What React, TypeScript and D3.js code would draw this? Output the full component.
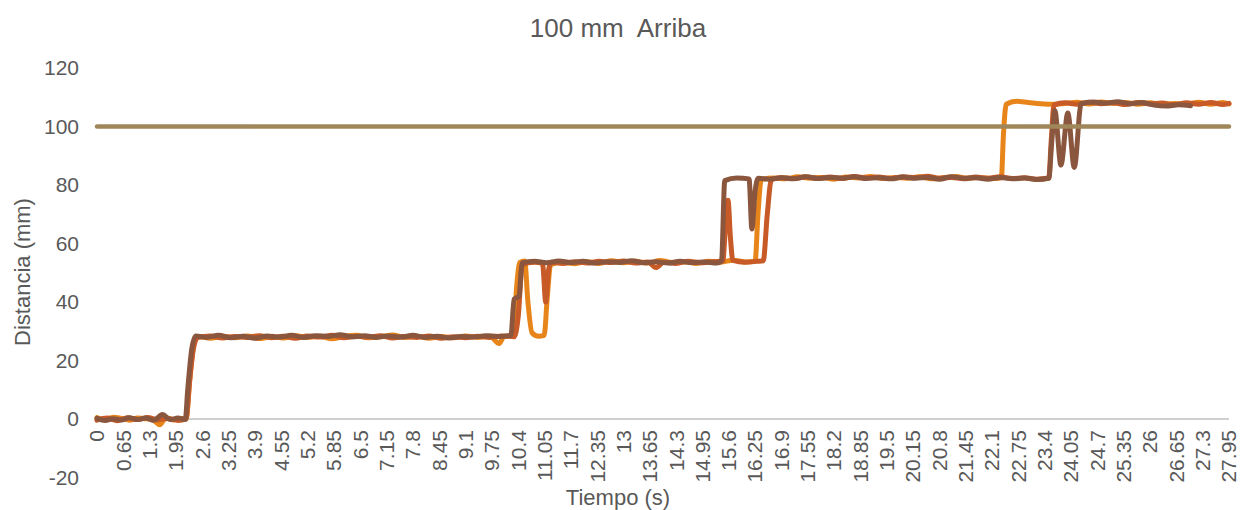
import * as d3 from "d3";
import React from "react";

// time labels on the category axis (s)
const xLabels = [
  "0", "0.65", "1.3", "1.95", "2.6", "3.25", "3.9", "4.55", "5.2", "5.85", "6.5",
  "7.15", "7.8", "8.45", "9.1", "9.75", "10.4", "11.05", "11.7", "12.35", "13",
  "13.65", "14.3", "14.95", "15.6", "16.25", "16.9", "17.55", "18.2", "18.85",
  "19.5", "20.15", "20.8", "21.45", "22.1", "22.75", "23.4", "24.05", "24.7",
  "25.35", "26", "26.65", "27.3", "27.95",
];
const yTicks = [-20, 0, 20, 40, 60, 80, 100, 120];
const target = 100;

// [time s, distance mm]
const serieA: [number, number][] = [
  [0, 0.5], [0.2, -0.3], [0.4, 0.6], [0.6, 0.2], [0.8, -0.4], [1.0, 0.3], [1.2, 0.1],
  [1.4, -0.5], [1.55, -2], [1.7, 0.4], [1.9, -0.3], [2.1, 0.2], [2.2, 0], [2.3, 15],
  [2.4, 26], [2.5, 28.2], [2.8, 27.6], [3.1, 28.3], [3.4, 27.8], [3.7, 28.4], [4.0, 27.5],
  [4.3, 28.1], [4.6, 27.7], [4.9, 28.5], [5.2, 27.9], [5.5, 28.3], [5.8, 27.4], [6.1, 28.2],
  [6.4, 28.6], [6.7, 27.8], [7.0, 28.1], [7.3, 28.7], [7.6, 27.9], [7.9, 28.3], [8.2, 27.6],
  [8.5, 28.2], [8.8, 27.8], [9.1, 28.4], [9.4, 27.9], [9.7, 28.3], [9.93, 25.8], [10.05, 28.2],
  [10.28, 28.5], [10.36, 45], [10.44, 53.5], [10.56, 54], [10.64, 40], [10.74, 29.5], [10.9, 28.3],
  [11.04, 28.6], [11.12, 42], [11.2, 52.8], [11.5, 53.6], [11.8, 53.1], [12.1, 53.8],
  [12.4, 53.2], [12.7, 54.1], [13.0, 53.4], [13.3, 53.9], [13.6, 53.3], [13.9, 54.2],
  [14.2, 53.5], [14.5, 53.8], [14.8, 53.2], [15.1, 53.9], [15.4, 53.6], [15.7, 54.3],
  [16.0, 53.7], [16.25, 54], [16.32, 70], [16.4, 81.8], [16.7, 82.4], [17.0, 82.1],
  [17.3, 82.8], [17.6, 82.3], [17.9, 82.6], [18.2, 82.0], [18.5, 82.7], [18.8, 82.4],
  [19.1, 82.9], [19.4, 82.2], [19.7, 82.6], [20.0, 82.3], [20.3, 82.8], [20.6, 82.1],
  [20.9, 82.5], [21.2, 82.9], [21.5, 82.3], [21.8, 82.6], [22.1, 82.2], [22.33, 82.5],
  [22.38, 97], [22.45, 107.6], [22.7, 108.6], [23.0, 108.2], [23.3, 107.8], [23.6, 107.6],
  [23.9, 107.9], [24.2, 108.3], [24.5, 107.7], [24.8, 108.4], [25.1, 107.9], [25.4, 108.2],
  [25.7, 107.6], [26.0, 108.1], [26.3, 107.4], [26.6, 107.9], [26.9, 107.6], [27.2, 108.3],
  [27.5, 107.6], [27.8, 108.2], [27.95, 107.7],
];

const serieB: [number, number][] = [
  [0, -0.4], [0.25, 0.3], [0.5, -0.6], [0.75, 0.4], [1.0, -0.2], [1.25, 0.5], [1.5, -0.3],
  [1.75, 0.2], [2.0, -0.5], [2.2, 0.1], [2.28, 12], [2.38, 24], [2.48, 27.8], [2.8, 28.4],
  [3.1, 27.7], [3.4, 28.2], [3.7, 27.9], [4.0, 28.5], [4.3, 27.8], [4.6, 28.3], [4.9, 27.6],
  [5.2, 28.4], [5.5, 28.0], [5.8, 28.6], [6.1, 27.8], [6.4, 28.3], [6.7, 28.0], [7.0, 28.5],
  [7.3, 27.7], [7.6, 28.2], [7.9, 27.9], [8.2, 28.4], [8.5, 27.6], [8.8, 28.1], [9.1, 27.8],
  [9.4, 28.3], [9.7, 27.9], [10.0, 28.4], [10.3, 28.1], [10.4, 35], [10.5, 52.8], [10.8, 53.6],
  [11.0, 53.2], [11.08, 40], [11.15, 51], [11.22, 53.6], [11.5, 53.2], [11.8, 53.8],
  [12.1, 53.3], [12.4, 53.9], [12.7, 53.5], [13.0, 54.0], [13.3, 53.3], [13.6, 53.7],
  [13.8, 51.8], [14.0, 53.6], [14.3, 53.2], [14.6, 53.9], [14.9, 53.4], [15.2, 53.8],
  [15.45, 54.0], [15.52, 66], [15.58, 74.8], [15.64, 62], [15.7, 54.2], [16.0, 53.6],
  [16.3, 53.9], [16.45, 54.1], [16.55, 70], [16.65, 81.8], [16.9, 82.6], [17.2, 82.2],
  [17.5, 82.8], [17.8, 82.3], [18.1, 82.7], [18.4, 82.2], [18.7, 82.9], [19.0, 82.4],
  [19.3, 82.7], [19.6, 82.2], [19.9, 82.8], [20.2, 82.5], [20.5, 83.0], [20.8, 82.3],
  [21.1, 82.6], [21.4, 82.1], [21.7, 82.7], [22.0, 82.3], [22.3, 82.8], [22.6, 82.2],
  [22.9, 82.5], [23.2, 82.0], [23.5, 82.4], [23.56, 95], [23.63, 107.4], [23.9, 108.1],
  [24.2, 107.6], [24.5, 108.3], [24.8, 107.8], [25.1, 108.1], [25.4, 107.5], [25.7, 108.2],
  [26.0, 107.7], [26.3, 108.0], [26.6, 107.4], [26.9, 108.1], [27.2, 107.6], [27.5, 108.2],
  [27.8, 107.5], [27.95, 107.9],
];

const serieC: [number, number][] = [
  [0, 0.2], [0.2, -0.5], [0.4, 0.1], [0.6, -0.3], [0.8, 0.4], [1.0, -0.2], [1.2, 0.3],
  [1.4, -0.4], [1.62, 1.5], [1.8, -0.2], [2.0, 0.3], [2.18, -0.1], [2.24, 10], [2.34, 24],
  [2.44, 28.4], [2.7, 27.9], [3.0, 28.6], [3.3, 27.8], [3.6, 28.3], [3.9, 27.6], [4.2, 28.4],
  [4.5, 28.0], [4.8, 28.6], [5.1, 27.9], [5.4, 28.5], [5.7, 28.2], [6.0, 28.8], [6.3, 28.1],
  [6.6, 28.5], [6.9, 27.9], [7.2, 28.4], [7.5, 28.0], [7.8, 28.6], [8.1, 27.9], [8.4, 28.3],
  [8.7, 27.7], [9.0, 28.2], [9.3, 28.0], [9.6, 28.5], [9.9, 28.2], [10.22, 28.6], [10.3, 41],
  [10.42, 42], [10.5, 53.4], [10.8, 53.9], [11.1, 53.4], [11.4, 54.0], [11.7, 53.5],
  [12.0, 53.9], [12.3, 53.3], [12.6, 53.8], [12.9, 53.5], [13.2, 54.1], [13.5, 53.4],
  [13.8, 53.8], [14.1, 53.3], [14.4, 53.9], [14.7, 53.5], [15.0, 53.7], [15.3, 53.3],
  [15.42, 54.0], [15.5, 81.5], [15.8, 82.4], [16.1, 82.1], [16.17, 65], [16.25, 78],
  [16.33, 82.3], [16.6, 82.0], [16.9, 82.5], [17.2, 82.1], [17.5, 82.8], [17.8, 82.2],
  [18.1, 82.6], [18.4, 82.3], [18.7, 82.8], [19.0, 82.2], [19.3, 82.5], [19.6, 82.1],
  [19.9, 82.7], [20.2, 82.3], [20.5, 82.6], [20.8, 82.0], [21.1, 82.8], [21.4, 82.3],
  [21.7, 82.5], [22.0, 82.0], [22.3, 82.6], [22.6, 82.1], [22.9, 82.4], [23.2, 81.9],
  [23.5, 82.3], [23.58, 96], [23.65, 105.4], [23.8, 86.8], [23.97, 104.6], [24.13, 86],
  [24.3, 107.8], [24.6, 108.4], [24.9, 108.0], [25.2, 108.5], [25.5, 107.8], [25.8, 108.2],
  [26.1, 107.3], [26.4, 107.0], [26.7, 107.4], [27.0, 107.1],
];

const series = [
  { name: "A", color: "#E8851A", data: serieA },
  { name: "B", color: "#C75A27", data: serieB },
  { name: "C", color: "#8A573E", data: serieC },
];

const W = 1248;
const H = 510;
const textColor = "#595959";
const font = "'Liberation Sans', Arial, sans-serif";

export default function App() {
  const x = d3.scaleLinear().domain([0, 27.95]).range([97, 1229]);
  const y = d3.scaleLinear().domain([-20, 120]).range([477.5, 68]);
  const line = d3
    .line<[number, number]>()
    .x((d) => x(d[0]))
    .y((d) => y(d[1]))
    .curve(d3.curveMonotoneX);

  return (
    <svg
      width={W}
      height={H}
      style={{ position: "absolute", left: 0, top: 0, background: "#fff" }}
      fontFamily={font}
    >
      <text
        x={618}
        y={37}
        textAnchor="middle"
        fontSize={26}
        fill={textColor}
        style={{ whiteSpace: "pre" }}
      >
        {"100 mm  Arriba"}
      </text>

      {yTicks.map((t) => (
        <text
          key={t}
          x={79}
          y={y(t)}
          dy="0.35em"
          textAnchor="end"
          fontSize={21}
          fill={textColor}
        >
          {t}
        </text>
      ))}

      <line x1={x(0)} x2={x(27.95)} y1={y(0)} y2={y(0)} stroke="#BFBFBF" strokeWidth={1.5} />

      {xLabels.map((l) => (
        <text
          key={l}
          transform={`translate(${x(+l)},${y(0) + 11}) rotate(-90)`}
          dy="0.35em"
          textAnchor="end"
          fontSize={21}
          fill={textColor}
        >
          {l}
        </text>
      ))}

      {series.map((s) => (
        <path
          key={s.name}
          d={line(s.data) ?? ""}
          fill="none"
          stroke={s.color}
          strokeWidth={5}
          strokeLinejoin="round"
          strokeLinecap="round"
        />
      ))}

      <line
        x1={x(0)}
        x2={x(27.95)}
        y1={y(target)}
        y2={y(target)}
        stroke="#A08759"
        strokeWidth={4.5}
        strokeLinecap="round"
      />

      <text
        transform={`translate(22,272) rotate(-90)`}
        dy="0.35em"
        textAnchor="middle"
        fontSize={22}
        fill={textColor}
      >
        Distancia (mm)
      </text>
      <text x={618} y={505} textAnchor="middle" fontSize={22} fill={textColor}>
        Tiempo (s)
      </text>
    </svg>
  );
}
